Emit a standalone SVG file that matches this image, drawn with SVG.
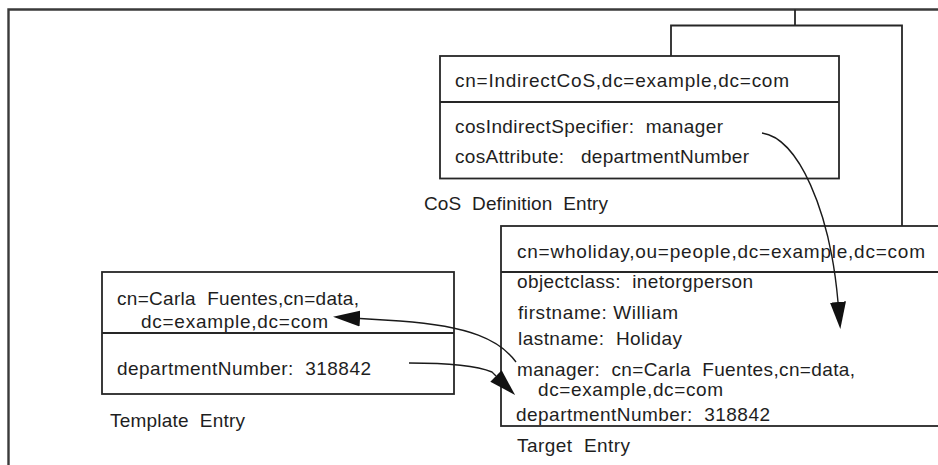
<svg xmlns="http://www.w3.org/2000/svg" width="938" height="465" viewBox="0 0 938 465">
  <style>
    .box { fill: none; stroke: #262626; stroke-width: 1.8; }
    .rule { stroke: #262626; stroke-width: 1.8; fill: none; }
    .frame { stroke: #3a3a3a; stroke-width: 2.4; fill: none; }
    .wire { stroke: #262626; stroke-width: 1.8; fill: none; }
    .ref { stroke: #1a1a1a; stroke-width: 1.4; fill: none; marker-end: url(#head); }
    text { font-family: "Liberation Sans", Arial, sans-serif; font-size: 19px; fill: #1e1e1e; white-space: pre; }
  </style>
  <defs>
    <marker id="head" markerUnits="userSpaceOnUse" markerWidth="28" markerHeight="18" viewBox="0 -9 28 18" refX="0" refY="0" orient="auto">
      <path d="M0,-8 L27,0 L0,8 Z" fill="#111111"/>
    </marker>
  </defs>

  <rect width="938" height="465" fill="#ffffff"/>

  <!-- outer container, running past the right and bottom edges -->
  <path class="frame" d="M8.5,465 V9.5 H938"/>

  <g id="cos-definition">
    <rect class="box" x="440" y="56" width="399" height="122.5"/>
    <line class="rule" x1="440" y1="102" x2="839" y2="102"/>
    <text x="455" y="87" textLength="334" lengthAdjust="spacing">cn=IndirectCoS,dc=example,dc=com</text>
    <text x="455" y="133" textLength="268" lengthAdjust="spacing">cosIndirectSpecifier:  manager</text>
    <text x="455" y="163" textLength="294" lengthAdjust="spacing">cosAttribute:   departmentNumber</text>
    <text x="424" y="210" textLength="184" lengthAdjust="spacing">CoS  Definition  Entry</text>
  </g>

  <g id="target-entry">
    <rect class="box" x="501" y="226" width="450" height="200"/>
    <line class="rule" x1="501" y1="272" x2="938" y2="272"/>
    <text x="517" y="258" textLength="408" lengthAdjust="spacing">cn=wholiday,ou=people,dc=example,dc=com</text>
    <text x="517" y="288" textLength="236" lengthAdjust="spacing">objectclass:  inetorgperson</text>
    <text x="518" y="319" textLength="160" lengthAdjust="spacing">firstname: William</text>
    <text x="518" y="345" textLength="164" lengthAdjust="spacing">lastname:  Holiday</text>
    <text x="517" y="376" textLength="338" lengthAdjust="spacing">manager:  cn=Carla  Fuentes,cn=data,</text>
    <text x="538" y="396" textLength="185" lengthAdjust="spacing">dc=example,dc=com</text>
    <text x="516" y="421" textLength="254" lengthAdjust="spacing">departmentNumber:  318842</text>
    <text x="517" y="452" textLength="113" lengthAdjust="spacing">Target  Entry</text>
  </g>

  <g id="template-entry">
    <rect class="box" x="102" y="272" width="352" height="122"/>
    <line class="rule" x1="102" y1="333" x2="454" y2="333"/>
    <text x="117" y="305" textLength="242" lengthAdjust="spacing">cn=Carla  Fuentes,cn=data,</text>
    <text x="141" y="328" textLength="187" lengthAdjust="spacing">dc=example,dc=com</text>
    <text x="117" y="375" textLength="254" lengthAdjust="spacing">departmentNumber:  318842</text>
    <text x="110" y="427" textLength="135" lengthAdjust="spacing">Template  Entry</text>
  </g>

  <!-- tree links from the container, and the attribute references -->
  <g id="connectors">
    <path class="wire" d="M795,9.5 V25.5"/>
    <path class="wire" d="M671,56 V25.5 H902 V226"/>
    <!-- cosIndirectSpecifier -> manager attribute of the target -->
    <path class="ref" d="M762,133 C798,138 830,210 838,302"/>
    <!-- manager value -> template DN -->
    <path class="ref" d="M516,362 C500,340 470,326 400,321 L360,318.5"/>
    <!-- template departmentNumber -> target -->
    <path class="ref" d="M409,363 C445,363 475,365 492,372 L496,376"/>
  </g>
</svg>
